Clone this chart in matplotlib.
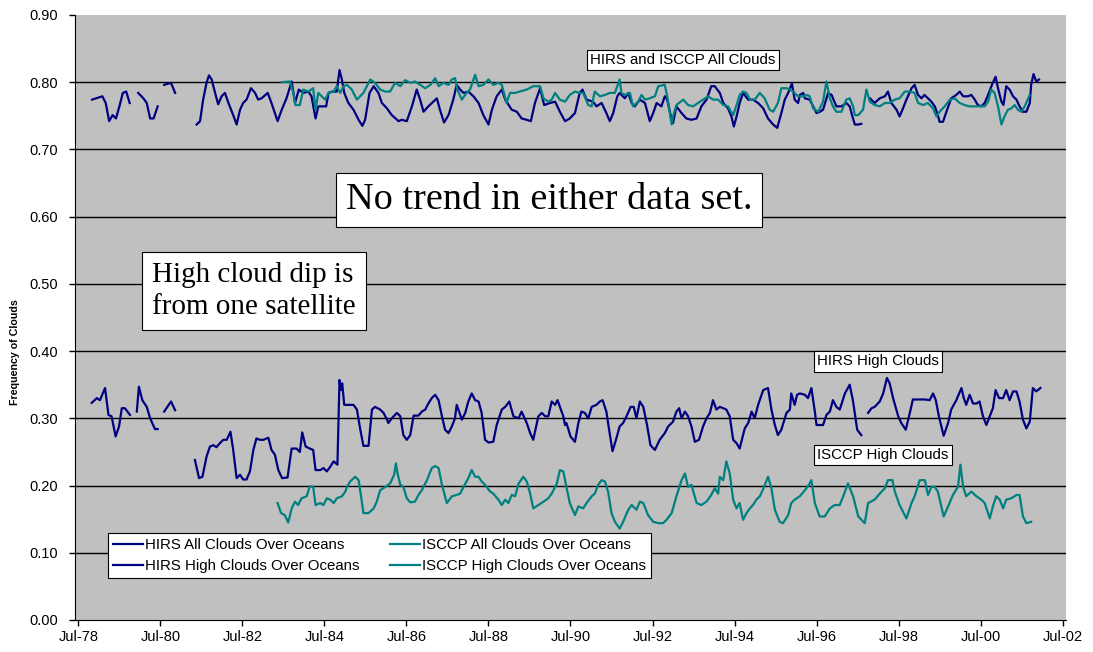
import numpy as np
import matplotlib.pyplot as plt

plt.rcParams['font.family'] = ['Liberation Sans', 'DejaVu Sans']

nan = np.nan

# x axis: months counted from Jul-78
tick_labels = ['Jul-78', 'Jul-80', 'Jul-82', 'Jul-84', 'Jul-86', 'Jul-88', 'Jul-90',
               'Jul-92', 'Jul-94', 'Jul-96', 'Jul-98', 'Jul-00', 'Jul-02']

# nan marks a break in the record
hirs_all_m = [4, 7, 8, 9, 10, 11, 12, 13, 14, 15, nan,
              17.5, 19, 20, 21, 22, 23.2, nan,
              25.1, 27.1, 28.3, nan,
              34.6, 35.6, 36.5, 37.5, 38.2, 39, 40, 40.9, 41.9, 42.9, 43.9, 45.3, 46.3, 47.3,
              48.2, 49.2, 50.5, 51.7, 52.6, 53.6, 55.4, 56.5, 58.3, 59.5, 60.9, 62.4, 63.4,
              64.5, 65.8, 67.3, 68.2, 69.4, 70.2, 72.5, 73.2, 74.2, 75.6, 76.4, 77.1, 77.8,
              79.0, 80.5, 82.0, 83.1, 83.9, 85.2, 86.4, 87.8, 88.8, 90.3, 91.7, 93.7, 94.6,
              96.1, 97.6, 99.0, 100.0, 101.0, 102.4, 104.9, 105.8, 107.0, 108.3, 109.7, 110.7,
              111.7, 112.7, 114.1, 115.6, 117.1, 118.5, 120.0, 121.0, 122.4, 123.9, 124.9,
              126.8, 128.3, 129.7, 131.2, 132.4, 133.6, 135.1, 136.3, 138.0, 139.5,
              140.9, 142.4, 143.8, 145.3, 146.7, 147.5, 148.7, 150.6, 151.6, 153.1, 154.5,
              155.5, 156.5, 157.7, 158.4, 159.9, 160.9, 161.9, 162.8, 164.3, 165.8, 167.2,
              168.2, 169.2, 170.6, 171.6, 172.3, 173.6, 174.0, 175.0, 176.5, 177.9, 179.4,
              180.9, 182.3, 183.8, 185.2, 186.2, 187.7, 188.7, 190.1, 191.1, 191.8, 192.6,
              193.5, 194.5, 196.0, 197.4, 198.9, 200.4, 201.8, 203.3, 204.5, 205.7, 206.7,
              207.7, 208.8, 209.6, 210.6, 211.1, 212.1, 212.6, 214.0, 215.0, 216.0, 217.0,
              217.9, 219.4, 220.4, 221.8, 223.3, 224.7, 225.7, 226.5, 227.2, 228.2, 229.1, nan,
              231.6, 233.0, 234.5, 236.0, 236.9, 237.9, 239.4, 240.3, 241.3, 242.3, 243.8,
              244.7, 245.7, 246.7, 247.6, 248.6, 249.6, 250.6, 251.5, 252.0, 253.0, 254.0,
              255.4, 256.9, 257.9, 258.9, 260.3, 261.3, 262.3, 263.2, 264.2, 265.2, 266.2,
              267.4, 268.4, 269.1, 270.1, 270.7, 271.5, 272.5, 273.5, 274.5, 275.4, 276.4,
              277.4, 278.4, 278.8, 279.5, 280.3, 281.1]
hirs_all_v = [0.774, 0.779, 0.769, 0.742, 0.751, 0.746, 0.764, 0.784, 0.786, 0.769, nan,
              0.784, 0.776, 0.769, 0.746, 0.746, 0.764, nan,
              0.796, 0.799, 0.784, nan,
              0.737, 0.742, 0.774, 0.799, 0.810, 0.804, 0.784, 0.767, 0.779, 0.784, 0.769, 0.751, 0.737, 0.759,
              0.769, 0.774, 0.791, 0.784, 0.774, 0.776, 0.784, 0.769, 0.742, 0.759, 0.776, 0.801, 0.769,
              0.789, 0.784, 0.786, 0.779, 0.746, 0.764, 0.764, 0.784, 0.786, 0.786, 0.818, 0.804, 0.784,
              0.769, 0.759, 0.744, 0.735, 0.744, 0.784, 0.794, 0.784, 0.769, 0.761, 0.751, 0.742, 0.744,
              0.742, 0.764, 0.789, 0.774, 0.756, 0.764, 0.776, 0.759, 0.740, 0.751, 0.774, 0.796,
              0.789, 0.784, 0.786, 0.779, 0.769, 0.751, 0.737, 0.759, 0.779, 0.789, 0.774,
              0.759, 0.756, 0.746, 0.744, 0.742, 0.769, 0.791, 0.766, 0.769, 0.771,
              0.756, 0.742, 0.746, 0.754, 0.784, 0.789, 0.774, 0.771, 0.764, 0.769, 0.754,
              0.742, 0.754, 0.779, 0.784, 0.776, 0.784, 0.769, 0.764, 0.774, 0.769, 0.742,
              0.754, 0.769, 0.764, 0.779, 0.774, 0.744, 0.739, 0.764, 0.754, 0.746, 0.744,
              0.746, 0.764, 0.774, 0.794, 0.794, 0.784, 0.769, 0.761, 0.749, 0.734, 0.749,
              0.769, 0.784, 0.774, 0.774, 0.769, 0.761, 0.746, 0.737, 0.732, 0.754, 0.774,
              0.784, 0.798, 0.774, 0.769, 0.781, 0.784, 0.776, 0.774, 0.764, 0.754, 0.756,
              0.759, 0.784, 0.781, 0.764, 0.764, 0.769, 0.764, 0.749, 0.737, 0.737, 0.738, nan,
              0.776, 0.769, 0.776, 0.779, 0.786, 0.769, 0.759, 0.749, 0.761, 0.774, 0.791,
              0.796, 0.781, 0.776, 0.781, 0.776, 0.771, 0.764, 0.751, 0.741, 0.741, 0.756,
              0.776, 0.781, 0.786, 0.779, 0.779, 0.781, 0.774, 0.766, 0.764, 0.769, 0.781,
              0.797, 0.808, 0.791, 0.771, 0.766, 0.794, 0.789, 0.779, 0.774, 0.764, 0.756,
              0.756, 0.769, 0.796, 0.812, 0.801, 0.804]

isccp_all_m = [59.5, 61.9, 62.9, 63.5, 64.8, 65.8, 67.3, 68.7, 69.4, 70.2, 72.2, 73.2, 74.7,
               75.6, 76.6, 77.6, 78.6, 80.0, 81.5, 83.4, 85.4, 86.8, 88.3, 89.8, 91.2, 92.7,
               94.2, 95.6, 97.1, 98.5, 100.0, 101.5, 103.0, 104.4, 105.4, 106.8, 108.3, 109.3,
               110.2, 110.9, 112.2, 113.6, 114.6, 116.1, 117.1, 118.5, 120.0, 121.4, 122.9,
               123.9, 125.3, 126.3, 127.8, 129.2, 131.2, 133.1, 135.1, 136.1, 137.5, 138.5,
               139.5, 140.9, 142.4, 143.8, 145.3, 146.7, 147.7, 149.2, 150.2, 151.1, 152.6,
               154.1, 155.5, 157.0, 158.4, 158.9, 159.9, 161.4, 162.3, 163.8, 164.8, 165.8,
               167.2, 168.7, 169.7, 171.6, 172.3, 173.6, 174.0, 175.0, 177.0, 178.4, 179.9,
               181.3, 182.8, 184.3, 185.7, 187.2, 188.7, 190.1, 191.6, 192.6, 193.5, 194.5,
               195.5, 196.5, 197.9, 199.4, 200.8, 202.3, 203.3, 204.7, 205.7, 207.2, 208.2,
               209.1, 210.6, 212.1, 213.1, 214.0, 215.0, 216.5, 217.9, 218.9, 219.9, 220.8,
               221.8, 223.3, 224.7, 225.7, 226.7, 227.2, 228.2, 229.6, 230.6, 231.6, 233.0,
               234.5, 236.0, 237.4, 238.9, 240.3, 241.8, 243.3, 244.7, 245.7, 247.2, 248.6,
               250.1, 251.1, 252.0, 253.5, 255.0, 256.4, 257.9, 259.3, 260.8, 262.3, 263.7,
               265.2, 266.2, 267.1, 268.1, 269.1, 270.1, 271.0, 272.0, 273.0, 274.0, 274.9,
               275.9, 276.9, 278.4]
isccp_all_v = [0.800, 0.801, 0.784, 0.766, 0.766, 0.789, 0.786, 0.791, 0.759, 0.784, 0.774, 0.784, 0.786,
               0.794, 0.784, 0.794, 0.796, 0.789, 0.774, 0.784, 0.804, 0.799, 0.789, 0.786, 0.786, 0.799,
               0.794, 0.803, 0.799, 0.801, 0.796, 0.791, 0.796, 0.806, 0.794, 0.799, 0.796, 0.804,
               0.806, 0.789, 0.774, 0.784, 0.789, 0.811, 0.794, 0.796, 0.804, 0.796, 0.799,
               0.796, 0.769, 0.784, 0.784, 0.786, 0.789, 0.794, 0.794, 0.776, 0.771, 0.774,
               0.784, 0.774, 0.771, 0.781, 0.786, 0.784, 0.784, 0.766, 0.764, 0.786, 0.779,
               0.781, 0.784, 0.784, 0.804, 0.784, 0.781, 0.784, 0.764, 0.771, 0.781, 0.774,
               0.776, 0.779, 0.794, 0.796, 0.779, 0.737, 0.749, 0.766, 0.774, 0.766, 0.764,
               0.769, 0.774, 0.779, 0.774, 0.774, 0.766, 0.764, 0.751, 0.766, 0.781, 0.786,
               0.784, 0.774, 0.774, 0.784, 0.776, 0.759, 0.756, 0.769, 0.791, 0.791, 0.789,
               0.786, 0.779, 0.779, 0.781, 0.779, 0.761, 0.756, 0.771, 0.801, 0.776, 0.764,
               0.756, 0.756, 0.774, 0.776, 0.764, 0.751, 0.751, 0.759, 0.789, 0.771, 0.766,
               0.764, 0.769, 0.769, 0.774, 0.776, 0.786, 0.786, 0.784, 0.769, 0.766, 0.769,
               0.761, 0.749, 0.756, 0.764, 0.774, 0.776, 0.769, 0.766, 0.764, 0.764, 0.764,
               0.764, 0.771, 0.789, 0.784, 0.764, 0.737, 0.749, 0.759, 0.761, 0.766, 0.759,
               0.756, 0.764, 0.781]

hirs_high_m = [3.9, 5.4, 6.3, 7.8, 8.8, 9.7, 10.9, 11.9, 12.7, 13.6, 15.1, nan,
               17.1, 17.7, 18.7, 20.0, 21.0, 22.4, 23.2, nan,
               25.1, 27.1, 28.3, nan,
               34.1, 35.3, 36.3, 37.5, 38.5, 39.5, 40.4, 41.4, 42.4, 43.4, 44.5, 45.3, 46.3,
               47.3, 48.2, 49.2, 50.2, 51.2, 52.1, 53.1, 54.1, 55.6, 56.5, 57.5, 58.5, 59.6,
               61.2, 62.4, 63.8, 64.8, 65.5, 66.5, 67.7, 68.7, 69.4, 70.8, 71.7, 72.7, 73.7,
               74.7, 75.8, 76.4, 76.8, 77.2, 77.8, 79.0, 80.5, 81.5, 82.5, 83.4, 84.9, 85.9,
               86.8, 88.3, 89.3, 90.3, 90.7, 91.7, 93.2, 94.2, 95.1, 96.1, 97.1, 98.1, 99.5,
               100.5, 101.5, 102.4, 103.4, 104.4, 105.4, 106.3, 107.3, 108.3, 109.3, 110.2,
               110.7, 111.2, 112.2, 113.2, 114.1, 115.1, 116.1, 117.1, 118.0, 119.0, 120.0,
               121.4, 122.4, 123.9, 124.9, 126.1, 127.3, 128.8, 129.7, 131.2, 132.2, 133.1,
               134.6, 135.6, 136.6, 137.5, 138.5, 139.5, 140.2, 141.9, 142.4, 142.8, 143.3,
               144.0, 145.3, 146.3, 147.2, 148.2, 149.2, 150.2, 151.6, 152.6, 153.4, 154.5,
               155.3, 156.3, 157.3, 158.4, 159.4, 160.4, 161.6, 162.5, 163.3, 164.3, 165.3,
               166.4, 167.4, 168.7, 170.1, 171.6, 172.6, 174.0, 175.0, 175.8, 176.5, 177.5,
               178.4, 179.4, 180.4, 181.6, 182.8, 183.8, 184.8, 185.7, 186.7, 187.7, 188.7,
               189.6, 190.6, 191.6, 192.6, 193.5, 195.0, 196.0, 197.0, 197.9, 198.9, 200.4,
               201.8, 202.8, 203.8, 204.7, 205.7, 207.2, 208.2, 208.6, 209.6, 210.3, 211.1,
               212.6, 213.5, 214.5, 215.5, 216.0, 217.9, 218.9, 219.9, 220.8, 221.8, 222.8,
               224.3, 225.7, 226.7, 227.9, 229.1, nan,
               231.1, 232.1, 233.0, 234.5, 235.5, 236.6, 237.4, 238.4, 239.9, 240.8, 242.1,
               243.3, 244.2, 245.7, 247.7, 249.1, 250.1, 250.9, 251.8, 253.2, 254.5, 255.4,
               256.9, 258.4, 259.1, 259.8, 260.8, 261.8, 262.8, 263.7, 264.7, 265.7, 266.7,
               267.6, 268.4, 269.4, 270.6, 271.5, 272.5, 273.5, 274.5, 275.4, 276.4, 277.4,
               278.4, 279.3, 280.3, 281.5]
hirs_high_v = [0.323, 0.330, 0.327, 0.345, 0.305, 0.303, 0.273, 0.288, 0.315, 0.315, 0.305, nan,
               0.310, 0.347, 0.327, 0.317, 0.300, 0.284, 0.284, nan,
               0.310, 0.325, 0.312, nan,
               0.238, 0.211, 0.213, 0.243, 0.258, 0.260, 0.257, 0.263, 0.268, 0.268, 0.280, 0.253, 0.211,
               0.216, 0.209, 0.209, 0.221, 0.253, 0.270, 0.268, 0.268, 0.271, 0.253, 0.246, 0.223, 0.211,
               0.212, 0.255, 0.255, 0.250, 0.279, 0.258, 0.255, 0.253, 0.223, 0.223, 0.226, 0.221, 0.228,
               0.236, 0.231, 0.357, 0.342, 0.352, 0.320, 0.320, 0.320, 0.313, 0.283, 0.259, 0.259, 0.313,
               0.317, 0.313, 0.308, 0.298, 0.293, 0.300, 0.308, 0.303, 0.275, 0.268, 0.275, 0.304, 0.304,
               0.310, 0.313, 0.322, 0.330, 0.335, 0.327, 0.305, 0.283, 0.278, 0.288, 0.300,
               0.320, 0.313, 0.298, 0.308, 0.325, 0.337, 0.327, 0.325, 0.308, 0.268, 0.264,
               0.265, 0.290, 0.313, 0.317, 0.325, 0.303, 0.300, 0.310, 0.293, 0.278, 0.268,
               0.303, 0.308, 0.303, 0.303, 0.325, 0.320, 0.327, 0.303, 0.290, 0.293, 0.285,
               0.273, 0.265, 0.293, 0.310, 0.308, 0.300, 0.317, 0.320, 0.325, 0.327, 0.310,
               0.283, 0.251, 0.268, 0.288, 0.293, 0.303, 0.317, 0.317, 0.300, 0.325, 0.317,
               0.290, 0.260, 0.253, 0.268, 0.278, 0.288, 0.295, 0.310, 0.315, 0.300, 0.310,
               0.303, 0.288, 0.265, 0.268, 0.288, 0.300, 0.308, 0.327, 0.313, 0.317, 0.315,
               0.313, 0.303, 0.268, 0.263, 0.255, 0.285, 0.293, 0.310, 0.300, 0.320, 0.342,
               0.345, 0.313, 0.290, 0.275, 0.283, 0.308, 0.313, 0.337, 0.320, 0.335, 0.337,
               0.335, 0.330, 0.345, 0.310, 0.290, 0.290, 0.305, 0.310, 0.327, 0.317, 0.313,
               0.337, 0.350, 0.325, 0.283, 0.275, nan,
               0.308, 0.315, 0.317, 0.325, 0.337, 0.360, 0.352, 0.330, 0.303, 0.293, 0.283,
               0.308, 0.328, 0.328, 0.328, 0.327, 0.337, 0.327, 0.303, 0.274, 0.293, 0.313,
               0.327, 0.345, 0.330, 0.320, 0.335, 0.322, 0.322, 0.325, 0.303, 0.290, 0.303,
               0.315, 0.342, 0.330, 0.330, 0.342, 0.327, 0.340, 0.340, 0.325, 0.298, 0.285,
               0.295, 0.345, 0.340, 0.345]

isccp_high_m = [58.3, 59.3, 60.4, 61.4, 62.4, 63.4, 64.3, 65.3, 66.8, 67.7, 68.7, 69.4, 70.8,
                71.7, 72.7, 73.7, 74.7, 75.6, 77.1, 78.1, 78.6, 79.5, 81.0, 82.0, 83.0, 83.4,
                84.9, 86.4, 87.3, 88.3, 89.8, 91.2, 92.4, 92.9, 93.4, 94.2, 95.1, 96.1, 97.1,
                98.5, 99.5, 100.5, 102.0, 103.4, 104.4, 105.4, 106.3, 107.3, 107.8, 109.3,
                110.7, 111.7, 112.7, 114.1, 115.1, 116.1, 117.1, 118.0, 119.0, 120.5, 121.4,
                122.9, 123.9, 124.9, 125.8, 126.8, 127.8, 128.8, 130.2, 131.2, 132.2, 133.1,
                134.6, 136.1, 137.5, 138.5, 140.0, 140.9, 141.9, 142.8, 143.8, 145.3, 146.3,
                147.7, 148.7, 150.2, 151.1, 152.1, 153.1, 154.1, 155.0, 156.0, 157.0, 158.4,
                159.4, 160.9, 161.9, 163.3, 164.3, 165.3, 166.7, 168.2, 169.7, 171.1, 172.1,
                173.6, 175.0, 176.5, 177.5, 178.4, 179.4, 180.9, 182.3, 183.8, 185.2, 186.2,
                187.2, 187.7, 188.7, 189.6, 190.6, 191.6, 192.6, 193.5, 194.5, 195.5, 196.5,
                197.4, 198.4, 199.4, 200.5, 201.8, 202.8, 203.8, 205.2, 206.2, 207.7, 208.6,
                209.6, 211.1, 212.6, 214.0, 214.5, 215.5, 216.9, 218.4, 219.9, 221.3, 222.8,
                223.8, 225.2, 226.7, 228.2, 230.1, 231.1, 233.0, 234.5, 236.0, 236.9, 238.2,
                238.9, 240.3, 242.3, 243.8, 244.7, 246.2, 247.7, 248.6, 249.6, 250.6, 251.5,
                253.2, 254.5, 255.9, 257.4, 258.1, 258.9, 259.8, 261.3, 262.8, 264.2, 265.2,
                266.7, 267.6, 268.6, 269.6, 270.6, 271.5, 273.0, 274.5, 275.4, 276.4, 277.4,
                278.8]
isccp_high_v = [0.174, 0.159, 0.156, 0.145, 0.166, 0.176, 0.171, 0.181, 0.184, 0.199, 0.198, 0.171, 0.174,
                0.171, 0.181, 0.179, 0.174, 0.181, 0.184, 0.191, 0.198, 0.206, 0.213, 0.208, 0.174, 0.159,
                0.159, 0.166, 0.176, 0.193, 0.198, 0.203, 0.216, 0.233, 0.218, 0.201, 0.198, 0.181, 0.175,
                0.176, 0.186, 0.193, 0.208, 0.226, 0.229, 0.226, 0.203, 0.184, 0.174, 0.184,
                0.186, 0.188, 0.198, 0.211, 0.223, 0.213, 0.213, 0.206, 0.201, 0.191, 0.188,
                0.179, 0.171, 0.179, 0.174, 0.186, 0.184, 0.203, 0.213, 0.206, 0.188, 0.166,
                0.171, 0.176, 0.181, 0.188, 0.203, 0.223, 0.221, 0.198, 0.174, 0.156, 0.169,
                0.166, 0.174, 0.184, 0.188, 0.201, 0.208, 0.206, 0.191, 0.159, 0.146, 0.136,
                0.146, 0.164, 0.171, 0.164, 0.176, 0.174, 0.156, 0.146, 0.144, 0.144, 0.149,
                0.159, 0.184, 0.208, 0.218, 0.198, 0.201, 0.174, 0.171, 0.176, 0.186, 0.196,
                0.188, 0.213, 0.208, 0.236, 0.218, 0.179, 0.166, 0.174, 0.149, 0.159, 0.166,
                0.171, 0.179, 0.184, 0.196, 0.213, 0.196, 0.164, 0.146, 0.144, 0.156, 0.174,
                0.179, 0.184, 0.193, 0.203, 0.208, 0.174, 0.154, 0.154, 0.166, 0.171, 0.171,
                0.184, 0.203, 0.184, 0.154, 0.144, 0.174, 0.179, 0.188, 0.196, 0.208, 0.208,
                0.191, 0.171, 0.151, 0.174, 0.184, 0.208, 0.208, 0.186, 0.198, 0.198, 0.191,
                0.154, 0.169, 0.186, 0.198, 0.231, 0.198, 0.184, 0.191, 0.184, 0.179, 0.174,
                0.151, 0.169, 0.184, 0.179, 0.166, 0.179, 0.181, 0.186, 0.186, 0.154, 0.144,
                0.146]

navy = '#000080'
teal = '#008080'

fig = plt.figure(figsize=(10.93, 6.52), dpi=100)
ax = fig.add_axes([0.0686, 0.0491, 0.9067, 0.928])
ax.set_facecolor('#C0C0C0')

ax.plot(hirs_all_m, hirs_all_v, color=navy, lw=1.6, label='HIRS All Clouds Over Oceans', zorder=3)
ax.plot(hirs_high_m, hirs_high_v, color=navy, lw=1.6, label='HIRS High Clouds Over Oceans', zorder=3)
ax.plot(isccp_all_m, isccp_all_v, color=teal, lw=1.6, label='ISCCP All Clouds Over Oceans', zorder=4)
ax.plot(isccp_high_m, isccp_high_v, color=teal, lw=1.6, label='ISCCP High Clouds Over Oceans', zorder=4)

ax.set_xlim(-1, 289)
ax.set_ylim(0, 0.9)
ax.set_xticks(np.arange(len(tick_labels)) * 24)
ax.set_xticklabels(tick_labels)
ax.set_yticks(np.arange(0, 0.91, 0.1))
ax.set_yticklabels([f'{t:.2f}' for t in np.arange(0, 0.91, 0.1)])
for y in ax.get_yticks()[1:-1]:
    ax.axhline(y, color='black', lw=1, zorder=1)

ax.tick_params(labelsize=10.5, length=4, width=1, colors='black', direction='out')
ax.tick_params(axis='y', pad=8)
ax.spines['top'].set_visible(False)
ax.spines['right'].set_visible(False)

fig.text(0.014, 0.46, 'Frequency of Clouds', rotation=90, ha='center', va='center',
         fontsize=7.7, fontweight='bold')

leg = ax.legend(ncol=2, loc='lower left', bbox_to_anchor=(0.033, 0.069), fontsize=10.8,
                frameon=True, fancybox=False, edgecolor='black', facecolor='white',
                framealpha=1, handlelength=2.0, handletextpad=0.15, columnspacing=2.0,
                borderpad=0.35, labelspacing=0.45, borderaxespad=0)
leg.get_frame().set_linewidth(0.8)

box = dict(boxstyle='square,pad=0.22', facecolor='white', edgecolor='black', lw=0.8)
fig.text(0.6249, 0.908, 'HIRS and ISCCP All Clouds', ha='center', va='center',
         fontsize=10.8, bbox=box, zorder=5)
fig.text(0.8033, 0.4456, 'HIRS High Clouds', ha='center', va='center',
         fontsize=10.8, bbox=box, zorder=5)
fig.text(0.8079, 0.3021, 'ISCCP High Clouds', ha='center', va='center',
         fontsize=10.8, bbox=box, zorder=5)

fig.text(0.5023, 0.6933, 'No trend in either data set.', ha='center', va='center',
         fontsize=27.5, family='Liberation Serif',
         bbox=dict(boxstyle='square,pad=0.25', facecolor='white', edgecolor='black', lw=0.8))
fig.text(0.139, 0.5537, 'High cloud dip is\nfrom one satellite', ha='left', va='center',
         fontsize=21, family='Liberation Serif', linespacing=1.3,
         bbox=dict(boxstyle='square,pad=0.35', facecolor='white', edgecolor='black', lw=0.8))

fig.savefig('out.png', dpi=100)
